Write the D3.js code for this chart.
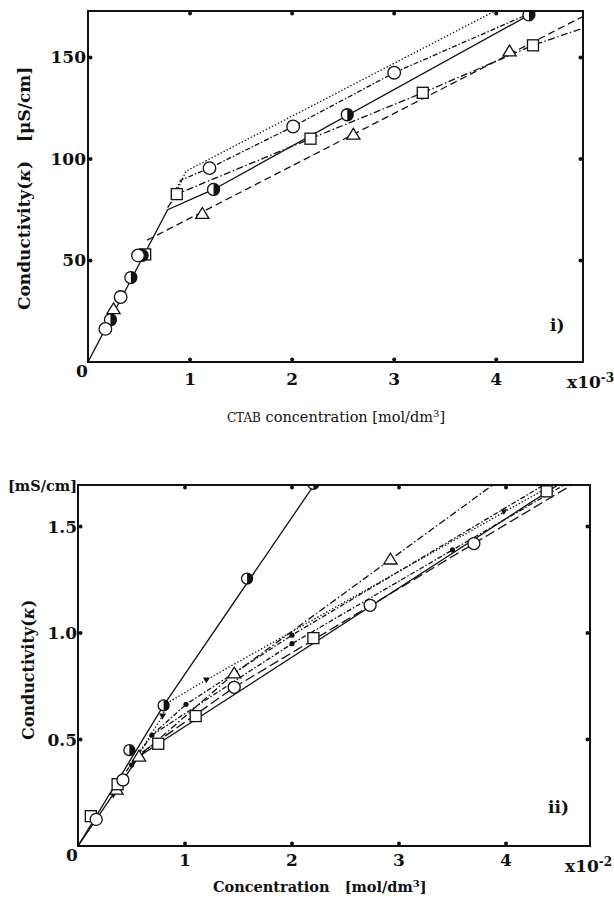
<!DOCTYPE html>
<html lang="en">
<head>
<meta charset="UTF-8">
<title>Conductivity plots</title>
<script src="https://d3js.org/d3.v7.min.js"></script>
<style>
    body { margin: 0; background: #fff; }
    svg text { font-family: "DejaVu Serif", "Liberation Serif", serif; fill: #111; white-space: pre; }
    .tick-label { font-size: 17px; font-weight: bold; }
    .axis-title { font-size: 16px; font-weight: bold; }
</style>
</head>
<body>
<div id="chart"></div>
<script>
    // ---- panel i) : CTAB, x in 1e-3 mol/dm3, y in uS/cm
    const topXTicks = [1, 2, 3, 4];
    const topYTicks = [50, 100, 150];

    const topCircle = [[0.17, 16.3], [0.32, 32], [0.49, 52.5], [1.19, 95.5], [2.01, 116], [3.0, 142.5]];
    const topHalf = [[0.22, 20.8], [0.42, 41.6], [0.53, 52.5], [1.23, 85], [2.54, 121.8], [4.32, 171]];
    const topSquare = [[0.56, 53], [0.87, 82.7], [2.18, 110], [3.28, 132.6], [4.36, 156]];
    const topTriangle = [[0.25, 26], [1.12, 73], [2.6, 112], [4.13, 153]];

    const topSolidLine = [[0, 0], [0.78, 75], [1.23, 85], [4.45, 174.5]];
    const topSquareLine = [[0.78, 76], [0.87, 82.7], [2.18, 110], [3.28, 132.6], [4.36, 156], [4.88, 165]];
    const topCircleLine = [[0.85, 84], [0.91, 89.6], [1.19, 95.5], [2.01, 116], [3.0, 142.5], [4.32, 171.5], [4.45, 174.5]];
    const topDottedLine = [[0.87, 84], [0.96, 94], [4.03, 174]];
    const topDashedLine = [[0.58, 60], [4.88, 171]];

    // ---- panel ii) : x in 1e-2 mol/dm3, y in mS/cm
    const botXTicks = [1, 2, 3, 4];
    const botYTicks = [0.5, 1.0, 1.5];

    const botHalf = [[0.48, 0.45], [0.8, 0.66], [1.58, 1.255], [2.2, 1.70]];
    const botSquare = [[0.12, 0.14], [0.37, 0.29], [0.75, 0.48], [1.10, 0.61], [2.2, 0.976], [4.38, 1.665]];
    const botCircle = [[0.17, 0.125], [0.42, 0.31], [1.46, 0.745], [2.73, 1.13], [3.7, 1.42]];
    const botTriangle = [[0.36, 0.265], [0.57, 0.42], [1.46, 0.81], [2.92, 1.345]];
    const botInvTri = [[0.33, 0.24], [0.79, 0.61], [1.2, 0.78], [3.98, 1.57]];
    const botDot = [[0.5, 0.38], [0.69, 0.52], [1.01, 0.665], [2.0, 0.99], [2.0, 0.95], [3.5, 1.39]];

    const botHalfLine = [[0, 0], [0.8, 0.66], [2.24, 1.72]];
    const botSquareLine = [[0, 0], [0.57, 0.42], [0.75, 0.48], [4.5, 1.70]];
    const botCircleLine = [[0.6, 0.44], [1.46, 0.745], [4.63, 1.70]];
    const botTriangleLine = [[0.5, 0.38], [0.57, 0.42], [1.46, 0.81], [3.89, 1.70]];
    const botDottedLine = [[0.5, 0.38], [0.79, 0.61], [0.83, 0.67], [1.2, 0.78], [4.45, 1.70]];
    const botDotLine = [[0.45, 0.35], [0.69, 0.52], [1.01, 0.665], [2.0, 0.99], [4.37, 1.70]];
    const botDot2Line = [[0.69, 0.52], [2.0, 0.95], [3.5, 1.39], [4.56, 1.70]];

    const width = 614, height = 899;
    const svg = d3.select("#chart").append("svg")
        .attr("width", width).attr("height", height);

    const dashes = {
        solid: null,
        dashed: "7,4",
        longdash: "10,4",
        dotted: "1.4,2",
        dashdot: "7,2.5,1.5,2.5",
        dashdot2: "5,2,1.5,2"
    };

    function panel(cfg) {
        const x = d3.scaleLinear().domain(cfg.xDomain).range([cfg.left, cfg.right]);
        const y = d3.scaleLinear().domain(cfg.yDomain).range([cfg.bottom, cfg.top]);
        const g = svg.append("g");

        g.append("clipPath").attr("id", cfg.id)
            .append("rect")
            .attr("x", cfg.left).attr("y", cfg.top)
            .attr("width", cfg.right - cfg.left).attr("height", cfg.bottom - cfg.top);

        const line = d3.line().x(d => x(d[0])).y(d => y(d[1]));
        const plot = g.append("g").attr("clip-path", `url(#${cfg.id})`);

        cfg.lines.forEach(l => {
            plot.append("path")
                .attr("d", line(l.data))
                .attr("fill", "none")
                .attr("stroke", "#111")
                .attr("stroke-width", 1.3)
                .attr("stroke-dasharray", dashes[l.style]);
        });

        // markers
        cfg.markers.forEach(m => {
            const s = m.size;
            const pts = plot.selectAll(null).data(m.data).enter().append("g")
                .attr("transform", d => `translate(${x(d[0])},${y(d[1])})`);
            if (m.type === "circle") {
                pts.append("circle").attr("r", s).attr("fill", "#fff").attr("stroke", "#111").attr("stroke-width", 1.3);
            } else if (m.type === "half") {
                pts.append("circle").attr("r", s).attr("fill", "#fff").attr("stroke", "#111").attr("stroke-width", 1.3);
                pts.append("path").attr("d", `M0,${-s}A${s},${s} 0 0 1 0,${s}Z`).attr("fill", "#111");
            } else if (m.type === "square") {
                pts.append("rect").attr("x", -s).attr("y", -s).attr("width", 2 * s).attr("height", 2 * s)
                    .attr("fill", "#fff").attr("stroke", "#111").attr("stroke-width", 1.3);
            } else if (m.type === "triangle") {
                pts.append("path").attr("d", `M0,${-s * 1.05}L${s * 1.1},${s * 0.75}L${-s * 1.1},${s * 0.75}Z`)
                    .attr("fill", "#fff").attr("stroke", "#111").attr("stroke-width", 1.3);
            } else if (m.type === "invtri") {
                pts.append("path").attr("d", `M${-s},${-s * 0.7}L${s},${-s * 0.7}L0,${s}Z`).attr("fill", "#111");
            } else if (m.type === "dot") {
                pts.append("circle").attr("r", s).attr("fill", "#111");
            }
        });

        // frame
        g.append("rect")
            .attr("x", cfg.left).attr("y", cfg.top)
            .attr("width", cfg.right - cfg.left).attr("height", cfg.bottom - cfg.top)
            .attr("fill", "none").attr("stroke", "#111").attr("stroke-width", 2);

        // tick dots on all four sides, just inside the frame
        cfg.xTicks.forEach(t => {
            g.append("circle").attr("cx", x(t)).attr("cy", cfg.bottom - 2.5).attr("r", 2).attr("fill", "#111");
            g.append("circle").attr("cx", x(t)).attr("cy", cfg.top + 2.5).attr("r", 2).attr("fill", "#111");
        });
        cfg.yTicks.forEach(t => {
            g.append("circle").attr("cx", cfg.left + 2.5).attr("cy", y(t)).attr("r", 2).attr("fill", "#111");
            g.append("circle").attr("cx", cfg.right - 2.5).attr("cy", y(t)).attr("r", 2).attr("fill", "#111");
        });

        // tick labels
        g.selectAll(null).data(cfg.xTicks).enter().append("text")
            .attr("class", "tick-label")
            .attr("x", d => x(d)).attr("y", cfg.xLabelY)
            .attr("text-anchor", "middle")
            .text(d => d);
        g.selectAll(null).data(cfg.yTicks).enter().append("text")
            .attr("class", "tick-label")
            .attr("x", cfg.yLabelX).attr("y", d => y(d) + 6)
            .attr("text-anchor", "end")
            .text(cfg.yFormat);
        g.append("text").attr("class", "tick-label")
            .attr("x", cfg.zero[0]).attr("y", cfg.zero[1])
            .attr("text-anchor", "middle").text("0");

        // x10^n
        const ex = g.append("text").attr("class", "tick-label")
            .attr("x", cfg.expo[0]).attr("y", cfg.expo[1]);
        ex.append("tspan").text("x10");
        ex.append("tspan").attr("dy", -6).style("font-size", "12px").text(cfg.expo[2]);

        // panel tag
        g.append("text").attr("class", "tick-label")
            .attr("x", cfg.tag[0]).attr("y", cfg.tag[1]).text(cfg.tag[2]);
        return g;
    }

    const gTop = panel({
        id: "clipTop",
        left: 88, right: 583, top: 11, bottom: 362,
        xDomain: [0, 4.85], yDomain: [0, 172.9],
        xTicks: topXTicks, yTicks: topYTicks,
        xLabelY: 385, yLabelX: 86, yFormat: d => d,
        zero: [82, 377],
        expo: [567, 388, "-3"],
        tag: [550, 331, "i)"],
        lines: [
            { data: topSolidLine, style: "solid" },
            { data: topDashedLine, style: "dashed" },
            { data: topSquareLine, style: "dashdot" },
            { data: topCircleLine, style: "dashdot2" },
            { data: topDottedLine, style: "dotted" }
        ],
        markers: [
            { data: topTriangle, type: "triangle", size: 6 },
            { data: topSquare, type: "square", size: 5.5 },
            { data: topHalf, type: "half", size: 6 },
            { data: topCircle, type: "circle", size: 6.3 }
        ]
    });

    const gBot = panel({
        id: "clipBot",
        left: 78, right: 590, top: 485, bottom: 846,
        xDomain: [0, 512 / 107], yDomain: [0, 361 / 213],
        xTicks: botXTicks, yTicks: botYTicks,
        xLabelY: 866, yLabelX: 77, yFormat: d => d.toFixed(1),
        zero: [72, 861],
        expo: [565, 872, "-2"],
        tag: [548, 813, "ii)"],
        lines: [
            { data: botHalfLine, style: "solid" },
            { data: botSquareLine, style: "solid" },
            { data: botCircleLine, style: "longdash" },
            { data: botTriangleLine, style: "dashdot" },
            { data: botDottedLine, style: "dotted" },
            { data: botDotLine, style: "dashdot2" },
            { data: botDot2Line, style: "dashdot2" }
        ],
        markers: [
            { data: botDot, type: "dot", size: 2.6 },
            { data: botInvTri, type: "invtri", size: 3.5 },
            { data: botTriangle, type: "triangle", size: 6 },
            { data: botSquare, type: "square", size: 5.5 },
            { data: botCircle, type: "circle", size: 6 },
            { data: botHalf, type: "half", size: 5.5 }
        ]
    });

    // axis titles
    const yt1 = svg.append("text").attr("class", "axis-title")
        .attr("transform", "translate(30,310) rotate(-90)").style("font-size", "17px");
    yt1.append("tspan").text("Conductivity(");
    yt1.append("tspan").style("font-style", "italic").text("κ");
    yt1.append("tspan").text(")");
    svg.append("text").attr("class", "axis-title")
        .attr("transform", "translate(30,142) rotate(-90)").style("font-size", "17px")
        .text("[μS/cm]");

    const xt1 = svg.append("text")
        .attr("x", 336).attr("y", 422).attr("text-anchor", "middle")
        .style("font-size", "14.5px");
    xt1.append("tspan").style("font-size", "12px").text("CTAB");
    xt1.append("tspan").text(" concentration [mol/dm");
    xt1.append("tspan").attr("dy", -5).style("font-size", "10px").text("3");
    xt1.append("tspan").attr("dy", 5).text("]");

    const yt2 = svg.append("text").attr("class", "axis-title")
        .attr("transform", "translate(34,740) rotate(-90)").style("font-size", "16px");
    yt2.append("tspan").text("Conductivity(");
    yt2.append("tspan").style("font-style", "italic").text("κ");
    yt2.append("tspan").text(")");

    svg.append("text").attr("class", "axis-title")
        .attr("x", 77).attr("y", 491).attr("text-anchor", "end")
        .style("font-size", "14.5px").text("[mS/cm]");

    const xt2 = svg.append("text").attr("class", "axis-title")
        .attr("x", 213).attr("y", 892).style("font-size", "14.5px");
    xt2.append("tspan").text("Concentration   [mol/dm");
    xt2.append("tspan").attr("dy", -5).style("font-size", "10px").text("3");
    xt2.append("tspan").attr("dy", 5).text("]");
</script>
</body>
</html>
